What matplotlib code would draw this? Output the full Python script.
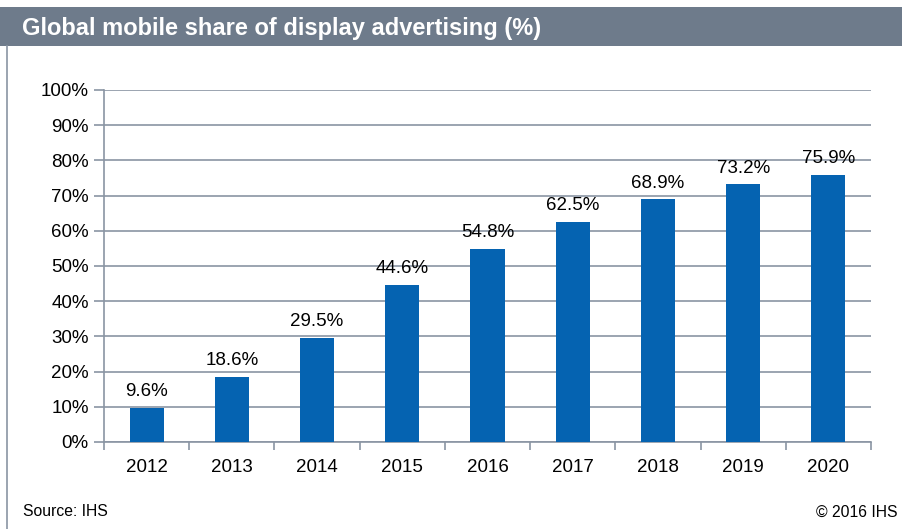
import matplotlib
matplotlib.use('Agg')
import matplotlib.pyplot as plt
from matplotlib.ticker import FuncFormatter, MultipleLocator
from matplotlib.patches import Rectangle
from matplotlib.lines import Line2D
import numpy as np

years = ['2012', '2013', '2014', '2015', '2016', '2017', '2018', '2019', '2020']
mobile_share = [9.6, 18.6, 29.5, 44.6, 54.8, 62.5, 68.9, 73.2, 75.9]
bar_labels = ['9.6%', '18.6%', '29.5%', '44.6%', '54.8%', '62.5%', '68.9%', '73.2%', '75.9%']

plt.rcParams['font.family'] = ['Liberation Sans', 'DejaVu Sans']

W, H = 902, 529
fig = plt.figure(figsize=(W / 100, H / 100), dpi=100)
fig.patch.set_facecolor('white')

# title band and left frame line
fig.patches.append(Rectangle((0, 1 - 46 / H), 1, 39 / H, transform=fig.transFigure,
                             facecolor='#6e7b8b', edgecolor='none'))
fig.lines.append(Line2D([6.5 / W, 6.5 / W], [0, 1 - 46 / H], transform=fig.transFigure,
                        color='#8a95a3', lw=1.2))
fig.text(22 / W, 1 - 28 / H, 'Global mobile share of display advertising (%)',
         color='white', fontsize=17, fontweight='bold', va='center', ha='left')

ax = fig.add_axes([104 / W, 1 - 442 / H, (871 - 104) / W, (442 - 90) / H])
x = np.arange(len(years))
ax.bar(x, mobile_share, width=0.4, color='#0563b1', zorder=3)
for xi, v, lab in zip(x, mobile_share, bar_labels):
    ax.text(xi, v + 2.2, lab, ha='center', va='bottom', fontsize=13.5, color='black')

ax.set_xlim(-0.5, len(years) - 0.5)
ax.set_ylim(0, 100)
ax.yaxis.set_major_locator(MultipleLocator(10))
ax.yaxis.set_major_formatter(FuncFormatter(lambda v, p: f'{v:.0f}%'))
ax.yaxis.grid(True, color='#8a95a3', lw=1.2, zorder=0)
ax.set_xticks(x)
ax.set_xticklabels(years)
ax.set_xticks(np.arange(len(years) + 1) - 0.5, minor=True)
ax.tick_params(axis='x', which='major', length=0, pad=12, labelsize=13.5)
ax.tick_params(axis='x', which='minor', length=6, color='#8a95a3', width=1.2)
ax.tick_params(axis='y', length=7, color='#8a95a3', width=1.2, labelsize=13.5, pad=4)
for s in ['top', 'right']:
    ax.spines[s].set_visible(False)
for s in ['left', 'bottom']:
    ax.spines[s].set_color('#8a95a3')
    ax.spines[s].set_linewidth(1.2)

fig.text(23 / W, 1 - 512 / H, 'Source: IHS', fontsize=11.3, va='center', ha='left')
fig.text(897 / W, 1 - 512 / H, '© 2016 IHS', fontsize=11.3, va='center', ha='right')

fig.savefig('out.png', dpi=100)
